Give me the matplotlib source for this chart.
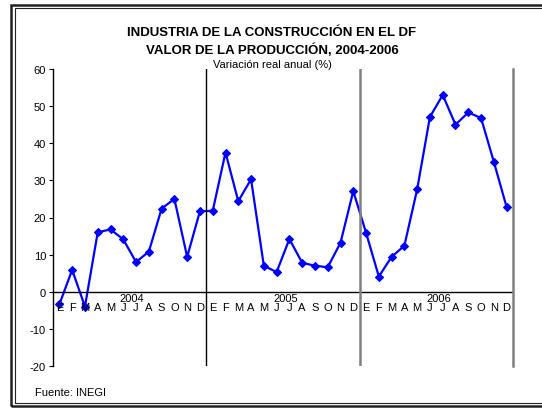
import matplotlib
matplotlib.use("Agg")
import matplotlib.pyplot as plt
from matplotlib.patches import Rectangle

plt.rcParams['font.family'] = ['Liberation Sans', 'DejaVu Sans']
plt.rcParams['axes.unicode_minus'] = False

# Data (variacion real anual, %)
years = ['2004', '2005', '2006']
months = ['E', 'F', 'M', 'A', 'M', 'J', 'J', 'A', 'S', 'O', 'N', 'D']
v2004 = [-3.4, 5.9, -4.0, 16.0, 16.8, 14.1, 8.0, 10.8, 22.4, 25.0, 9.4, 21.7]
v2005 = [21.8, 37.5, 24.4, 30.3, 7.0, 5.3, 14.2, 7.8, 7.0, 6.6, 13.2, 27.1]
v2006 = [15.9, 4.1, 9.4, 12.4, 27.6, 47.1, 53.0, 45.0, 48.3, 46.8, 35.0, 22.8]

values = v2004 + v2005 + v2006
W, H = 542, 410

fig = plt.figure(figsize=(W / 100, H / 100), dpi=100)
fig.patch.set_facecolor('white')

# outer double frame (right side runs off the picture)
fig.add_artist(Rectangle((11 / W, (H - 407) / H), 560 / W, 401 / H,
                         transform=fig.transFigure, fill=False,
                         edgecolor='#222222', lw=1.8))
fig.add_artist(Rectangle((14.5 / W, (H - 404) / H), 560 / W, 395 / H,
                         transform=fig.transFigure, fill=False,
                         edgecolor='#222222', lw=0.8))

ax = fig.add_axes([53 / W, (H - 367) / H, (513 - 53) / W, (367 - 70) / H])
xs = [i + 0.5 for i in range(len(values))]
ax.plot(xs, values, color='#0000ff', lw=1.6, marker='D', ms=4.5,
        markeredgewidth=0.8, clip_on=False)

ax.set_xlim(0, 36)
ax.set_ylim(-20, 60)
ax.set_yticks(range(-20, 61, 10))
ax.tick_params(axis='y', length=3, width=0.8, labelsize=8, pad=2)
ax.set_xticks([])
for s in ['top', 'right', 'bottom']:
    ax.spines[s].set_visible(False)
ax.spines['left'].set_linewidth(1.0)
ax.axhline(0, color='black', lw=1.0)

# year separators
ax.axvline(12, color='black', lw=1.0)
ax.axvline(24, color='#808080', lw=1.8)
ax.axvline(36, color='#808080', lw=1.8, clip_on=False)

# month and year labels
for i, x in enumerate(xs):
    ax.text(x, -2.7, months[i % 12], ha='center', va='top', fontsize=8)
for k, y in enumerate(years):
    ax.text(12 * k + 6.2, -0.4, y, ha='center', va='top', fontsize=8)

fig.text(272 / W, 1 - 33 / H, 'INDUSTRIA DE LA CONSTRUCCIÓN EN EL DF',
         ha='center', va='center', fontsize=9.5, fontweight='bold')
fig.text(272 / W, 1 - 50 / H, 'VALOR DE LA PRODUCCIÓN, 2004-2006',
         ha='center', va='center', fontsize=9.5, fontweight='bold')
fig.text(272 / W, 1 - 65 / H, 'Variación real anual (%)',
         ha='center', va='center', fontsize=8)
fig.text(35 / W, 1 - 393 / H, 'Fuente: INEGI', ha='left', va='center',
         fontsize=8)

fig.savefig('out.png', dpi=100)
